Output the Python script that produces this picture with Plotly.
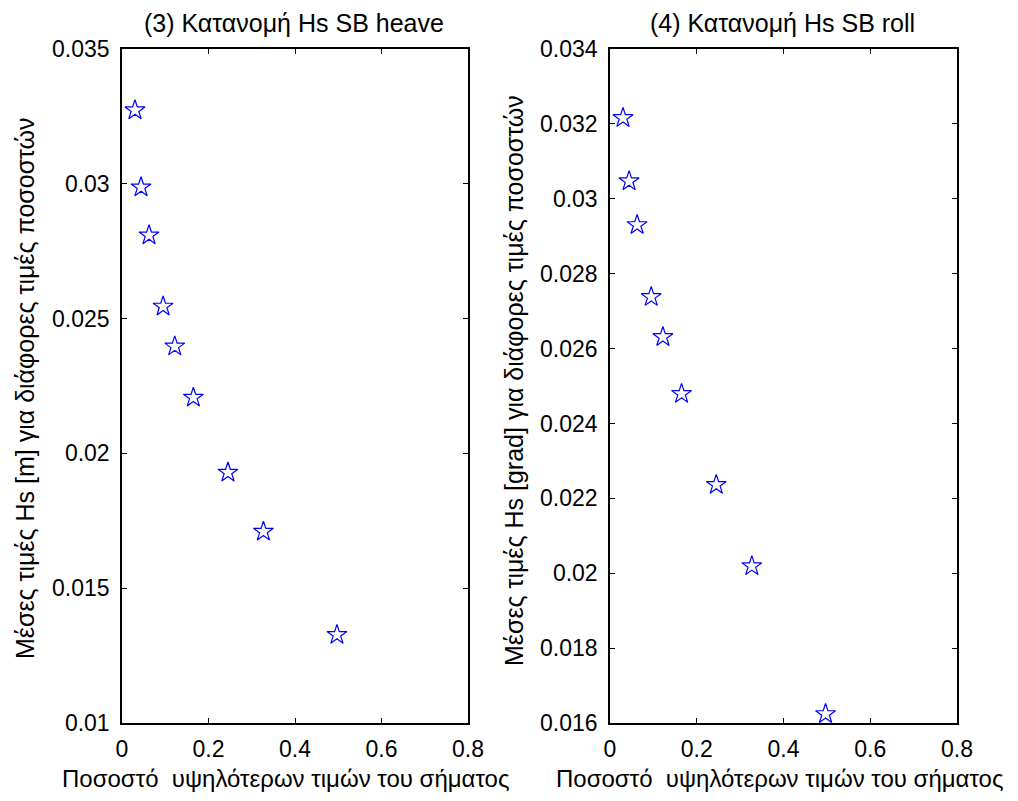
import plotly.graph_objects as go

# Data
pct = [0.03, 0.044, 0.0625, 0.095, 0.122, 0.165, 0.245, 0.327, 0.497]
hs_heave = [0.03273, 0.02987, 0.02809, 0.02545, 0.02397, 0.02207, 0.01929, 0.0171, 0.01327]
hs_roll = [0.03216, 0.03047, 0.0293, 0.02738, 0.02631, 0.02479, 0.02236, 0.02019, 0.01624]

x_ticks = [0, 0.2, 0.4, 0.6, 0.8]
x_labels = ["0", "0.2", "0.4", "0.6", "0.8"]
y1_ticks = [0.01, 0.015, 0.02, 0.025, 0.03, 0.035]
y1_labels = ["0.01", "0.015", "0.02", "0.025", "0.03", "0.035"]
y2_ticks = [0.016, 0.018, 0.02, 0.022, 0.024, 0.026, 0.028, 0.03, 0.032, 0.034]
y2_labels = ["0.016", "0.018", "0.02", "0.022", "0.024", "0.026", "0.028", "0.03", "0.032", "0.034"]

titles = ["(3) Κατανομή Hs SB heave", "(4) Κατανομή Hs SB roll"]
xlabel = "Ποσοστό  υψηλότερων τιμών του σήματος"
ylabels = ["Μέσες τιμές Hs [m] για διάφορες τιμές ποσοστών",
           "Μέσες τιμές Hs [grad] για διάφορες τιμές ποσοστών"]

FONT = "Liberation Sans, Arial, sans-serif"
# page body has an 8px margin; keep the figure inside the window
OFF = 8
W, H = 1018 - 2 * OFF, 801 - 2 * OFF


def px(xs):
    return (xs - OFF) / W


def py(ys):
    return 1 - (ys - OFF) / H


fig = go.Figure()
mk = dict(symbol="star-open", size=15, color="#0000ff", line=dict(width=1.2, color="#0000ff"))
fig.add_trace(go.Scatter(x=pct, y=hs_heave, mode="markers", xaxis="x", yaxis="y",
                         marker=mk, showlegend=False))
fig.add_trace(go.Scatter(x=pct, y=hs_roll, mode="markers", xaxis="x2", yaxis="y2",
                         marker=mk, showlegend=False))

axis_common = dict(showline=True, linecolor="black", linewidth=1.5, mirror="allticks",
                   ticks="inside", ticklen=5, tickwidth=1, tickcolor="black",
                   showgrid=False, zeroline=False, automargin=False,
                   tickfont=dict(family=FONT, size=23, color="black"))

xd1 = [px(122), px(468)]
xd2 = [px(610), px(957)]
yd = [py(723), py(49)]

fig.update_layout(
    template="none",
    width=W, height=H,
    margin=dict(l=0, r=0, t=0, b=0),
    paper_bgcolor="white", plot_bgcolor="white",
    xaxis=dict(domain=xd1, range=[0, 0.8], tickvals=x_ticks, ticktext=x_labels, anchor="y",
               ticklabelstandoff=5, **axis_common),
    yaxis=dict(domain=yd, range=[0.01, 0.035], tickvals=y1_ticks, ticktext=y1_labels, anchor="x",
               ticklabelstandoff=6, **axis_common),
    xaxis2=dict(domain=xd2, range=[0, 0.8], tickvals=x_ticks, ticktext=x_labels, anchor="y2",
                ticklabelstandoff=5, **axis_common),
    yaxis2=dict(domain=yd, range=[0.016, 0.034], tickvals=y2_ticks, ticktext=y2_labels, anchor="x2",
                ticklabelstandoff=6, **axis_common),
)

title_font = dict(family=FONT, size=25, color="black")
xl_font = dict(family=FONT, size=24, color="black")
yl_font = dict(family=FONT, size=25, color="black")
anns = [
    dict(text=titles[0], x=px(294), y=py(23), font=title_font),
    dict(text=titles[1], x=px(782), y=py(23), font=title_font),
    dict(text=xlabel, x=px(286), y=py(778), font=xl_font),
    dict(text=xlabel, x=px(780), y=py(778), font=xl_font),
    dict(text=ylabels[0], x=px(25), y=py(388), textangle=-90, font=yl_font),
    dict(text=ylabels[1], x=px(514), y=py(381), textangle=-90, font=yl_font),
]
for a in anns:
    fig.add_annotation(xref="paper", yref="paper", showarrow=False,
                       xanchor="center", yanchor="middle", **a)

fig.write_html("out.html")
